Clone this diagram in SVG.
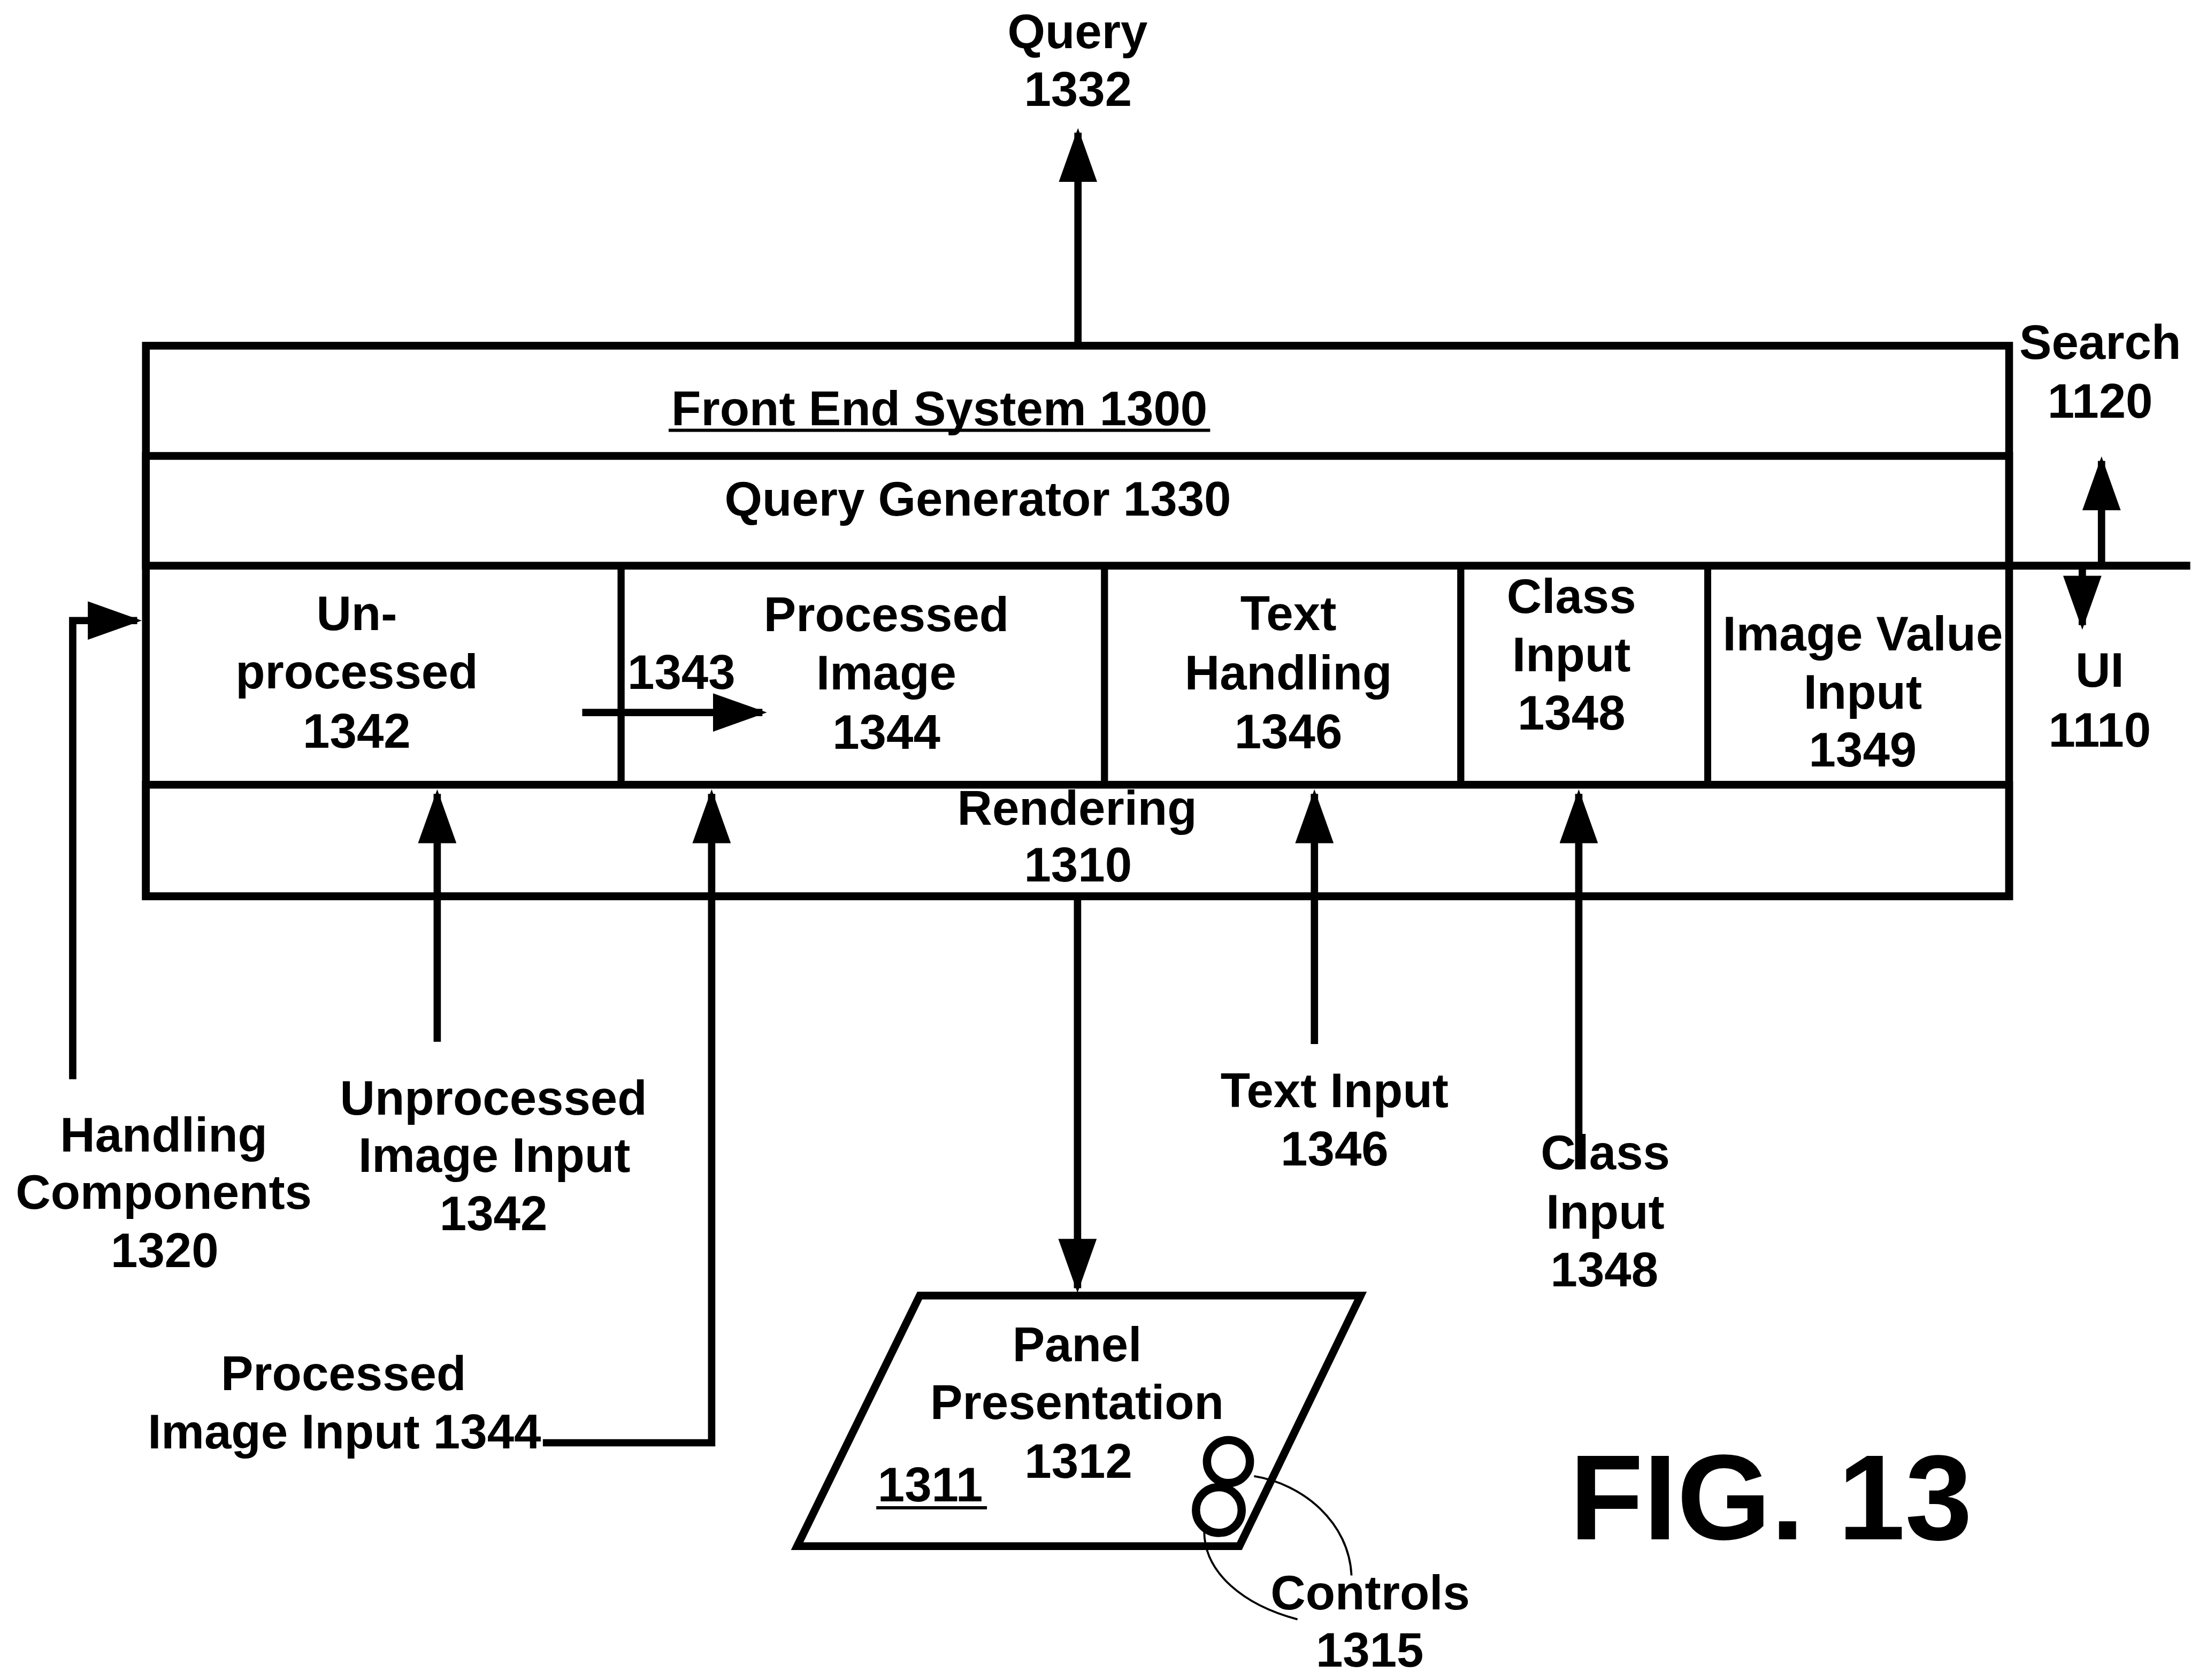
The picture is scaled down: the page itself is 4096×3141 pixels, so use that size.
<svg xmlns="http://www.w3.org/2000/svg" width="4096" height="3141" viewBox="0 0 4096 3141">
<defs>
<style>
.bx{fill:none;stroke:#000;stroke-width:17}
.dv{fill:none;stroke:#000;stroke-width:15}
.cn{fill:none;stroke:#000;stroke-width:16;stroke-linejoin:miter}
.th{fill:none;stroke:#000;stroke-width:4.5}
.ul{stroke:#000;stroke-width:7}
.ring{fill:none;stroke:#000;stroke-width:18}
text{font-family:"Liberation Sans",Arial,Helvetica,sans-serif;font-weight:bold;font-size:106px;fill:#000;text-anchor:middle}
.st{text-anchor:start}
.fig{font-size:264px;text-anchor:start}
</style>
<marker id="ah" viewBox="0 0 118 84" refX="108" refY="42" markerWidth="118" markerHeight="84" markerUnits="userSpaceOnUse" orient="auto">
<path d="M0,0 L118,42 L0,84 Z" fill="#000"/>
</marker>
</defs>
<rect width="4096" height="3141" fill="#fff"/>
<g transform="scale(0.855)">
<g id="front-end-system-1300">
<rect class="bx" x="319" y="756" width="4074" height="1204"/>
<text x="2054" y="930">Front End System 1300</text>
<line class="ul" x1="1462" y1="941" x2="2646" y2="941"/>
</g>
<g id="query-generator-1330">
<rect class="bx" x="319" y="997" width="4074" height="240"/>
<text x="2138" y="1128">Query Generator 1330</text>
</g>
<g id="unprocessed-1342">
<rect class="dv" x="319" y="1237" width="1039" height="479"/>
<text x="780" y="1378">Un-</text>
<text x="780" y="1505">processed</text>
<text x="780" y="1635">1342</text>
</g>
<g id="processed-image-1344">
<rect class="dv" x="1358" y="1237" width="1057" height="479"/>
<text x="1938" y="1380">Processed</text>
<text x="1938" y="1508">Image</text>
<text x="1938" y="1637">1344</text>
<text class="st" x="1372" y="1507">1343</text>
</g>
<g id="text-handling-1346">
<rect class="dv" x="2415" y="1237" width="779" height="479"/>
<text x="2817" y="1378">Text</text>
<text x="2817" y="1508">Handling</text>
<text x="2817" y="1636">1346</text>
</g>
<g id="class-input-1348">
<rect class="dv" x="3194" y="1237" width="540" height="479"/>
<text x="3436" y="1340">Class</text>
<text x="3436" y="1468">Input</text>
<text x="3436" y="1595">1348</text>
</g>
<g id="image-value-input-1349">
<rect class="dv" x="3734" y="1237" width="659" height="479"/>
<text x="4073" y="1422">Image Value</text>
<text x="4073" y="1550">Input</text>
<text x="4073" y="1676">1349</text>
</g>
<g id="rendering-1310">
<rect class="bx" x="319" y="1716" width="4074" height="244"/>
<text x="2355" y="1804">Rendering</text>
<text x="2357" y="1928">1310</text>
</g>
<g id="query-1332">
<text x="2356" y="105">Query</text>
<text x="2357" y="232">1332</text>
</g>
<g id="search-1120">
<text x="4592" y="785">Search</text>
<text x="4592" y="913">1120</text>
</g>
<g id="ui-1110">
<text x="4591" y="1502">UI</text>
<text x="4591" y="1633">1110</text>
</g>
<g id="handling-components-1320">
<text x="358" y="2518">Handling</text>
<text x="358" y="2643">Components</text>
<text x="360" y="2771">1320</text>
</g>
<g id="unprocessed-image-input-1342">
<text x="1079" y="2437">Unprocessed</text>
<text x="1081" y="2563">Image Input</text>
<text x="1079" y="2690">1342</text>
</g>
<g id="processed-image-input-1344">
<text x="751" y="3040">Processed</text>
<text x="753" y="3167">Image Input 1344</text>
</g>
<g id="text-input-1346">
<text x="2918" y="2421">Text Input</text>
<text x="2918" y="2549">1346</text>
</g>
<g id="class-input-label-1348">
<text x="3510" y="2557">Class</text>
<text x="3510" y="2687">Input</text>
<text x="3508" y="2813">1348</text>
</g>
<g id="panel-presentation-1312">
<polygon class="bx" points="2011,2833 2975,2833 2710,3381 1743,3381"/>
<text x="2355" y="2977">Panel</text>
<text x="2355" y="3103">Presentation</text>
<text x="2358" y="3231">1312</text>
<text x="2034" y="3283">1311</text>
<line class="ul" x1="1916" y1="3297" x2="2158" y2="3297"/>
</g>
<g id="controls-1315">
<circle class="ring" cx="2686" cy="3196" r="47"/>
<circle class="ring" cx="2665" cy="3302" r="50"/>
<path class="th" d="M2742,3228 C2850,3245 2950,3330 2955,3445"/>
<path class="th" d="M2633,3348 C2633,3440 2720,3510 2837,3541"/>
<text x="2996" y="3519">Controls</text>
<text x="2995" y="3645">1315</text>
</g>
<g id="fig-13">
<text class="fig" x="3432" y="3366">FIG. 13</text>
</g>
<g id="connectors">
<path class="cn" d="M2357,756 V290" marker-end="url(#ah)"/>
<path class="cn" d="M159,2360 V1357 H300" marker-end="url(#ah)"/>
<path class="cn" d="M956,2278 V1736" marker-end="url(#ah)"/>
<path class="cn" d="M1187,3155 H1556 V1736" marker-end="url(#ah)"/>
<path class="cn" d="M2874,2283 V1736" marker-end="url(#ah)"/>
<path class="cn" d="M3452,2557 V1736" marker-end="url(#ah)"/>
<path class="cn" d="M2356,1968 V2817" marker-end="url(#ah)"/>
<path class="cn" d="M1273,1558 H1667" marker-end="url(#ah)"/>
<path class="cn" d="M4595,1237 V1008" marker-end="url(#ah)"/>
<path class="cn" d="M4553,1237 V1367" marker-end="url(#ah)"/>
<path class="bx" d="M4393,1237 H4789"/>
</g>
</g>
</svg>
